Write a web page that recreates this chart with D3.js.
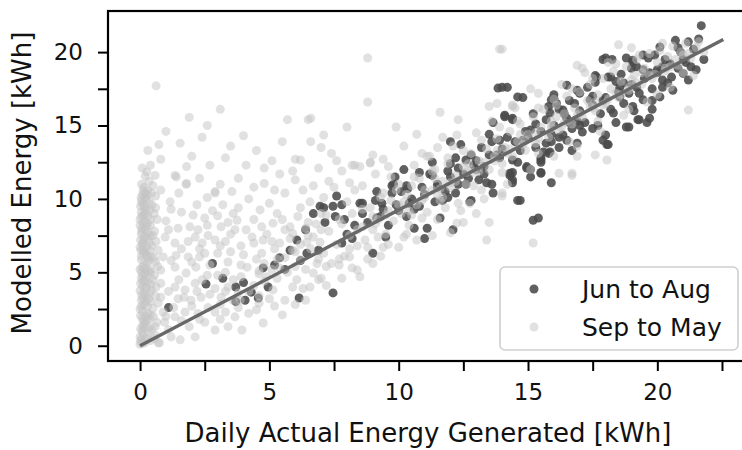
<!DOCTYPE html>
<html>
<head>
<meta charset="utf-8">
<script src="https://cdn.jsdelivr.net/npm/d3@7"></script>
<style>
  html, body { margin: 0; padding: 0; background: #fff; }
  svg { display: block; font-family: "DejaVu Sans", sans-serif; }
</style>
</head>
<body>
<svg id="chart" width="742" height="450"></svg>
<script>
// Daily modelled vs. actual PV energy, split by season.
const seriesNames = ["Jun to Aug", "Sep to May"];
const xTicks = [0, 2.5, 5, 7.5, 10, 12.5, 15, 17.5, 20, 22.5];
const yTicks = [0, 2.5, 5, 7.5, 10, 12.5, 15, 17.5, 20];
const fitX = [0, 22.55];
const fitSlope = 0.925;

// Jun to Aug: [actual, modelled] kWh
const junToAug = [
  [1.1,2.6],[2.55,4.2],[2.8,5.6],[3.2,4.6],[3.7,4.0],[4.0,4.3],[4.06,3.1],[3.7,3.0],[4.3,3.65],[4.57,3.25],
  [4.95,4.0],[4.76,5.3],[5.4,6.0],[5.2,5.5],[6.15,3.25],[5.8,6.5],[6.06,7.2],[6.4,7.9],[6.7,9.0],[6.45,6.3],
  [6.96,9.5],[7.46,3.6],[9.0,6.3],[7.6,10.2],[7.1,9.4],[7.46,9.5],[7.8,9.6],[7.15,8.4],[7.55,8.8],[8.5,9.7],
  [8.6,9.0],[9.15,10.5],[9.35,9.7],[9.8,11.0],[10.2,12.0],[10.3,10.9],[9.15,8.7],[9.6,8.2],[9.5,7.4],[10.3,8.8],
  [10.6,8.0],[11.1,8.0],[11.0,7.3],[11.6,8.7],[12.1,7.9],[11.3,11.6],[11.8,10.5],[12.2,10.4],[12.8,9.9],[12.6,11.0],
  [13.1,11.3],[13.6,11.0],[14.3,11.6],[14.4,11.1],[14.6,9.9],[11.3,12.5],[13.84,17.55],[13.65,15.2],[13.5,14.4],[12.0,13.9],
  [12.4,13.7],[9.86,11.5],[9.74,10.9],[8.6,9.7],[9.74,10.4],[11.9,10.1],[12.75,9.8],[12.2,12.8],[12.6,12.65],[13.0,12.0],
  [13.4,11.1],[13.65,10.4],[10.8,11.8],[10.35,10.7],[11.5,10.8],[14.0,17.6],[14.2,17.6],[14.8,16.9],[14.1,15.6],[15.9,16.75],
  [16.0,17.1],[16.5,17.75],[16.9,17.4],[17.6,18.4],[17.6,17.95],[17.9,19.5],[18.25,19.5],[18.1,18.3],[18.8,14.9],[19.25,15.4],
  [19.6,15.2],[18.0,14.35],[17.9,14.0],[18.1,13.7],[16.7,13.3],[16.9,13.8],[15.9,13.9],[16.2,13.5],[15.5,12.8],[15.8,13.1],
  [14.4,11.8],[14.4,11.3],[14.95,12.1],[15.1,11.5],[15.5,11.8],[15.9,11.1],[15.85,15.85],[16.1,16.5],[16.35,16.05],[17.0,17.2],
  [17.4,16.75],[16.6,15.2],[17.1,14.55],[16.35,14.35],[15.7,15.4],[14.4,15.4],[15.1,14.7],[14.7,13.3],[18.8,19.6],[19.05,19.3],
  [19.45,18.8],[18.7,17.9],[19.2,17.6],[18.55,16.95],[19.05,16.3],[19.45,16.75],[18.3,15.85],[21.7,21.8],[20.7,20.8],[21.2,20.7],
  [20.1,20.35],[20.9,20.0],[21.8,19.5],[21.5,18.8],[21.3,19.0],[20.55,18.3],[21.0,18.55],[20.2,18.1],[20.2,17.6],[20.1,16.95],
  [19.8,16.7],[19.8,16.1],[18.0,19.6],[18.2,18.3],[19.7,15.5],[19.3,15.4],[18.9,14.9],[19.2,19.0],[19.05,19.45],[19.45,19.8],
  [19.65,19.6],[18.55,17.6],[18.9,17.2],[20.0,18.8],[14.1,15.7],[16.0,16.85],[17.65,18.3],[18.05,13.7],[16.2,14.2],[15.7,13.8],
  [15.85,13.2],[15.5,12.65],[15.1,12.0],[15.5,11.75],[14.4,12.65],[14.3,11.75],[14.95,12.2],[14.6,16.95],[14.4,15.5],[14.7,9.9],
  [15.2,8.55],[15.4,8.7],[15.5,12.5],[10.5,10.0],[11.0,10.3],[11.5,11.0],[12.0,11.5],[12.5,11.7],[13.0,12.6],[13.5,13.0],
  [14.0,13.4],[14.5,13.9],[15.0,14.2],[15.5,14.6],[16.0,15.0],[16.5,15.5],[17.0,16.0],[17.5,16.4],[18.0,16.9],[18.5,17.3],
  [19.0,17.8],[19.5,18.2],[20.0,18.6],[20.5,19.2],[21.0,19.5],[17.2,15.2],[17.8,15.8],[16.8,16.5],[18.7,16.5],[19.8,17.5],
  [20.6,17.4],[21.2,18.1],[12.8,13.0],[13.3,12.2],[13.9,12.8],[16.4,15.8],[17.5,17.0],[15.2,15.8],[15.3,13.5],[16.7,14.8],
  [17.7,15.0],[18.4,15.2],[19.1,16.0],[20.3,19.5],[20.8,18.9],[21.4,20.2],[10.0,9.2],[10.8,9.5],[11.4,9.8],[12.3,11.0],
  [8.0,7.6],[8.3,8.2],[7.8,7.0],[9.3,8.8],[6.9,6.5],[6.2,5.8],[5.6,5.2],
  [7.9,8.6],[8.2,7.3],[8.8,8.4],[9.1,9.9],[9.4,9.3],[9.9,9.6],[10.1,10.5],[10.6,9.3],[10.9,10.8],[11.2,11.7],
  [11.7,9.9],[12.0,12.4],[12.3,12.1],[12.7,11.4],[13.2,13.5],[13.3,11.7],[13.8,13.0],[13.9,14.0],[14.2,14.2],[14.6,12.5],
  [14.9,14.6],[15.3,15.1],[15.6,13.2],[15.9,14.4],[16.2,16.1],[16.5,14.0],[16.9,15.3],[17.3,17.6],[17.5,14.8],[17.9,16.7],
  [18.2,16.1],[18.6,18.5],[19.0,18.9],[19.3,17.2],[19.7,18.6],[20.2,19.0],[20.4,17.9],[20.8,20.3],[21.1,19.3],[21.6,20.9],
  [11.9,11.9],[12.9,12.3],[10.4,9.7],[14.8,14.0],[16.6,16.7],[18.4,18.0],[17.0,15.0],[15.8,16.3],[13.6,13.9],[19.9,19.8]
];

// Sep to May: [actual, modelled] kWh
const sepToMay = [
  [0.00,0.10],[0.05,0.45],[0.12,0.80],[0.02,1.15],[0.20,1.50],[0.08,1.85],[0.30,2.20],[0.00,2.50],[0.15,2.80],[0.05,3.10],
  [0.25,3.40],[0.00,3.75],[0.10,4.05],[0.30,4.35],[0.05,4.60],[0.20,4.90],[0.00,5.20],[0.15,5.50],[0.35,5.80],[0.05,6.10],
  [0.20,6.40],[0.00,6.70],[0.10,7.00],[0.30,7.30],[0.05,7.60],[0.20,7.90],[0.00,8.20],[0.15,8.50],[0.30,8.80],[0.05,9.10],
  [0.20,9.40],[0.10,9.70],[0.25,10.00],[0.10,10.30],[0.30,10.60],[0.40,0.35],[0.45,1.10],[0.35,1.80],[0.50,2.55],[0.40,3.00],
  [0.45,3.80],[0.50,4.50],[0.40,5.20],[0.55,6.00],[0.45,6.80],[0.50,7.50],[0.40,8.20],[0.55,9.00],[0.45,9.60],[0.00,0.60],
  [0.10,1.40],[0.22,2.00],[0.05,2.70],[0.15,3.55],[0.25,4.00],[0.10,4.80],[0.32,5.05],[0.05,5.85],[0.25,6.20],[0.10,6.90],
  [0.30,7.70],[0.00,8.60],[0.20,9.00],[0.05,9.85],[0.15,10.80],[0.35,11.20],[0.20,11.55],[0.60,10.20],[0.50,10.90],[0.02,0.30],
  [0.18,0.20],[0.28,0.55],[0.08,1.00],[0.35,1.25],[0.15,1.65],[0.02,2.05],[0.28,2.65],[0.12,3.25],[0.38,3.60],[0.02,4.25],
  [0.18,4.45],[0.08,5.35],[0.28,5.65],[0.12,6.55],[0.38,6.45],[0.02,7.20],[0.18,7.45],[0.08,8.00],[0.28,8.35],[0.12,8.90],
  [0.38,9.25],[0.02,9.50],[0.18,10.10],[0.60,0.70],[0.65,1.60],[0.70,2.90],[0.62,4.00],[0.68,5.40],[0.70,6.50],[0.62,7.10],
  [0.66,8.60],[0.75,0.20],
  [0.08,0.15],[0.22,0.40],[0.32,0.95],[0.14,1.25],[0.26,1.70],[0.40,2.10],[0.10,2.35],[0.22,3.00],[0.34,3.20],[0.06,3.45],
  [0.20,3.90],[0.42,4.20],[0.12,4.40],[0.26,4.70],[0.40,5.00],[0.06,5.00],[0.20,5.30],[0.30,6.00],[0.14,6.30],[0.42,6.10],
  [0.04,6.50],[0.24,6.75],[0.36,7.00],[0.14,7.25],[0.40,7.50],[0.06,7.80],[0.26,8.10],[0.12,8.30],[0.40,8.60],[0.06,8.80],
  [0.24,9.20],[0.14,9.50],[0.36,9.80],[0.04,10.10],[0.28,10.30],[0.12,10.55],[0.44,10.40],[0.06,11.00],[0.26,11.85],[0.08,12.10],
  [0.40,12.30],[0.55,0.50],[0.58,1.30],[0.52,2.00],[0.60,3.40],[0.56,4.80],[0.60,5.70],[0.56,7.80],[0.60,9.40],
  [0.30,13.30],[0.73,13.70],[1.55,13.80],[2.40,14.20],[0.80,12.70],[0.58,11.60],[1.40,11.50],[1.78,11.00],[2.90,10.50],[2.60,10.10],
  [1.16,9.80],[0.80,10.60],[0.20,10.40],[1.60,9.10],[2.05,8.90],[2.50,8.70],[3.00,8.85],[3.40,8.40],[1.47,8.00],[1.93,8.10],
  [2.24,7.90],[2.63,7.50],[3.13,8.10],[0.97,7.40],[1.35,7.00],[1.86,7.10],[2.13,7.40],[2.90,7.20],[3.30,7.10],[3.67,7.90],
  [0.89,6.05],[1.39,6.15],[1.86,6.05],[2.30,6.05],[3.00,6.30],[3.50,6.40],[0.80,5.15],[1.35,5.35],[1.78,4.95],[2.16,5.35],
  [0.80,4.25],[1.35,4.00],[1.74,3.80],[2.13,4.25],[2.90,3.90],[0.80,3.30],[1.47,3.20],[1.97,3.10],[2.36,3.30],[3.13,3.30],
  [0.89,2.30],[1.35,1.97],[1.74,2.30],[2.24,2.20],[2.63,2.60],[2.90,1.07],[2.13,0.60],[1.55,0.40],[0.70,0.20],[3.30,2.30],
  [3.60,3.10],[3.67,1.97],[3.40,1.30],[0.62,17.70],[1.90,15.55],[3.10,16.10],[4.00,14.30],[5.70,15.40],[6.50,15.40],[5.50,13.90],
  [6.00,12.70],[1.35,11.60],[1.80,11.05],[2.90,10.40],[4.80,11.05],[3.55,10.50],
  [6.57,9.80],[4.64,9.25],[5.14,8.35],[3.75,8.55],[4.33,7.40],[4.76,7.20],[5.40,7.00],[5.90,7.65],[6.45,7.05],[6.20,5.85],
  [6.84,5.60],[5.70,5.00],[4.90,4.70],[4.14,5.35],[3.87,3.10],[4.50,2.45],[5.50,2.10],[3.94,1.07],[4.76,1.55],[6.00,2.80],
  [6.57,4.00],[6.90,4.50],[6.06,4.50],[5.14,3.80],
  [2.2,9.6],[3.8,9.4],[4.2,10.0],[5.0,9.7],[5.6,10.4],[4.4,8.6],[5.3,9.0],[6.1,8.8],[6.8,8.3],[5.8,8.1],
  [3.2,9.6],[4.7,6.3],[5.2,6.6],[3.9,6.8],[4.5,5.9],[6.3,10.6],[7.3,11.2],[6.9,12.1],[5.4,11.7],[4.1,12.3],
  [3.3,12.8],[2.7,12.3],[2.0,12.9],[7.8,11.9],[7.5,10.8],[5.1,12.6],[4.5,13.3],[2.3,6.6],[2.7,5.5],[3.3,5.0],
  [3.6,4.5],[2.6,4.8],[3.1,2.8],[4.2,2.2],[2.5,1.6],[1.1,1.1],[1.9,1.3],[1.2,0.6],[0.95,1.6],[4.4,4.1],
  [5.6,3.1],[5.9,4.0],
  [1.0,8.5],[1.2,9.3],[1.5,10.4],[2.3,11.4],[3.1,11.0],[3.8,11.4],[4.4,10.8],[5.2,10.6],[6.0,11.3],[6.7,10.9],
  [7.1,10.1],[2.8,9.2],[3.6,9.0],[4.7,8.1],[5.5,8.6],[6.2,9.4],[7.0,9.0],[1.1,7.9],[2.6,8.2],[3.5,7.6],
  [4.1,7.9],[4.9,7.6],[5.6,7.9],[6.4,8.0],[1.6,6.6],[2.4,7.0],[3.1,6.8],[4.0,6.2],[4.4,7.0],[5.1,7.1],
  [5.9,6.5],[1.2,5.8],[2.0,5.7],[2.5,6.3],[3.4,5.7],[3.9,5.5],[4.6,5.1],[5.4,5.3],[6.0,5.4],[1.5,4.5],
  [2.4,4.5],[3.0,4.8],[3.4,4.0],[3.9,4.7],[4.8,4.4],[5.3,4.6],[1.1,3.7],[1.7,3.3],[2.2,3.7],[2.7,3.5],
  [3.3,3.7],[4.6,3.4],[1.3,2.6],[2.0,2.7],[2.9,2.3],[3.8,2.6],[1.0,2.0],[1.6,1.7],[2.3,1.8],[3.1,1.8],
  [4.6,2.9],[5.2,2.7],[6.4,3.1],[7.2,4.1],[7.8,4.6],[8.2,5.3],[9.3,6.1],[10.0,6.7],[10.7,7.2],[11.3,7.5],
  [12.0,7.7],[1.8,12.2],[3.5,13.6],[4.8,12.1],[5.9,11.9],[6.6,13.9],[7.4,13.1],[8.1,11.1],[8.6,10.9],[9.6,12.2],
  [10.2,13.6],[10.7,14.4],[1.0,14.6],[2.6,15.0],[8.0,14.9],[9.9,14.9],
  [13.4,7.2],[13.5,8.4],[12.5,8.4],[8.5,4.7],[8.4,5.15],[6.7,4.95],[7.2,5.4],[7.7,5.5],[8.1,6.05],[9.0,5.6],
  [8.8,6.7],[9.4,6.7],[8.3,12.3],[8.9,12.5],[10.2,7.4],[12.25,8.35],[13.0,9.0],[12.75,9.7],[14.0,10.2],[6.96,7.05],
  [6.6,6.6],[8.8,19.6],[13.9,20.2],[8.8,16.6],[6.6,15.5],[7.1,14.35],[7.0,13.5],[11.6,15.9],[12.3,15.4],[11.7,14.2],
  [11.5,13.5],[12.25,14.35],[13.5,16.3],[13.8,16.5],[14.4,16.3],[9.0,13.0],[9.4,12.7],[8.2,12.3],[8.5,12.2],[8.9,12.45],
  [10.9,13.1],[11.1,12.9],[6.2,12.65],[18.5,20.5],[16.9,19.1],[17.1,18.9],[15.1,17.5],[21.2,16.05],[21.6,20.7],[14.0,20.2],
  [14.4,16.4],[18.05,12.65],[16.7,11.75],[17.6,13.0],[16.2,11.75],[16.9,12.9],[15.2,7.0],[16.7,11.6],[14.0,10.4],
  [6.2,6.9],[6.4,5.2],[6.7,7.4],[6.9,5.9],[7.1,6.3],[7.3,7.8],[7.4,5.6],[7.6,6.9],[7.8,8.3],[7.9,6.1],
  [8.1,7.5],[8.2,9.0],[8.4,6.8],[8.6,8.1],[8.7,7.2],[8.9,9.4],[9.0,7.9],[9.2,8.6],[9.3,10.1],[9.5,7.6],
  [9.6,9.2],[9.8,8.5],[9.9,10.6],[10.1,9.0],[10.2,9.8],[10.4,8.2],[10.5,10.9],[10.7,9.6],[10.8,11.4],[11.0,10.1],
  [11.1,9.1],[11.3,10.6],[11.4,12.0],[11.6,9.9],[11.7,11.2],[11.9,12.4],[12.0,10.8],[12.2,11.6],[12.3,9.7],[12.5,12.2],
  [12.6,11.0],[12.8,13.1],[12.9,11.8],[13.1,12.6],[13.2,10.6],[13.4,13.4],[13.5,12.0],[13.7,12.9],[13.8,14.1],[14.0,12.4],
  [14.1,13.5],[14.3,14.6],[14.4,12.9],[14.6,13.9],[14.7,15.1],[14.9,13.3],[15.0,14.4],[15.2,15.6],[15.3,13.8],[15.5,14.9],
  [15.6,16.1],[15.8,14.2],[15.9,15.3],[16.1,16.4],[16.2,14.7],[16.4,15.8],[16.5,17.0],[16.7,15.1],[16.8,16.2],[17.0,17.3],
  [17.1,15.6],[17.3,16.7],[17.4,17.8],[17.6,16.0],[17.7,17.1],[17.9,18.2],[18.0,16.5],[18.2,17.5],[18.3,18.7],[18.5,16.9],
  [18.6,18.0],[18.8,19.0],[18.9,17.4],[19.1,18.4],[19.2,19.5],[19.4,17.8],[19.5,18.9],[19.7,19.9],[19.8,18.2],[20.0,19.3],
  [20.1,20.1],[20.3,18.7],[20.4,19.7],[20.6,20.4],[20.8,19.1],[20.9,20.0],[21.1,20.6],[21.3,19.6],[21.5,20.3],[21.8,20.0],
  [9.7,11.5],[10.6,12.3],[11.2,12.9],[12.1,13.6],[13.0,14.5],[13.6,15.3],[14.5,16.2],[15.4,17.2],[16.3,17.8],[17.2,18.6],
  [18.1,19.3],[19.0,20.3],[10.3,7.6],[11.5,8.6],[12.4,9.2],[13.3,10.0],[14.2,11.0],[15.1,12.0],[16.0,12.9],[16.9,13.6],
  [17.8,14.6],[18.7,15.7],[19.6,16.6],[20.5,17.6],[21.4,18.4],[8.0,9.8],[7.2,8.9],[6.5,8.4],[5.8,7.3],[5.3,5.9],
  [4.8,5.6],[4.2,3.7],[3.8,3.6],[5.0,3.2],[6.3,3.9],[7.0,4.6],[7.7,5.9],[8.8,5.9],[9.6,6.9],[10.9,8.7],
  [11.8,9.4],[8.3,10.6],[9.1,11.7],[7.6,12.6],
  [8.4,7.9],[9.1,8.3],[9.7,9.9],[10.3,10.3],[10.9,9.9],[11.5,10.3],[12.0,11.1],[12.6,11.8],[13.1,11.9],[13.7,12.6],
  [14.2,13.1],[14.8,13.7],[15.3,14.5],[15.9,14.8],[16.4,15.2],[17.0,15.8],[17.5,16.2],[18.1,16.8],[18.6,17.1],[19.2,17.9],
  [19.7,18.4],[20.3,18.9],[20.7,19.5],[21.2,19.9],[9.4,10.4],[10.0,11.0],[10.6,11.5],[11.3,11.9],[11.9,12.8],[12.5,13.3],
  [13.2,14.0],[13.9,14.9],[14.6,15.3],[15.4,16.2],[16.0,16.8],[16.7,17.5],[17.5,18.2],[18.4,19.2],[19.3,19.8],[20.2,20.6],
  [8.6,9.3],[7.7,8.6],[7.0,7.9],[6.5,7.5],[6.0,6.4],[5.6,6.0],[5.1,5.2],[4.6,4.9],[8.1,6.6],[9.2,7.4],
  [10.5,8.9],[11.7,10.1],[12.9,10.9],[14.0,11.8],[15.4,13.1],[16.6,13.9],[17.7,15.3],[18.9,16.1],[20.0,17.1],[21.0,18.6],
  [9.0,8.8],[9.5,8.9],[10.0,9.6],[10.4,9.2],[11.0,10.6],[11.6,10.7],[12.2,11.2],[12.7,12.4],[13.3,12.5],[13.8,13.3],
  [14.3,13.4],[14.9,14.0],[15.4,14.1],[15.9,15.0],[16.3,14.9],[16.9,15.7],[17.4,16.3],[17.9,16.4],[18.4,17.2],[18.9,17.6],
  [19.4,18.6],[19.9,18.5],[20.5,19.0],[21.0,19.8],[11.4,11.4],[12.8,12.0],[14.7,14.4],[16.1,15.6],[17.6,16.6],[19.0,18.1]
];

const svg = d3.select("#chart");
const plot = { left: 108, right: 745, top: 11, bottom: 361 };

const x = d3.scaleLinear().domain([-1.24, 23.39]).range([plot.left, plot.right]);
const y = d3.scaleLinear().domain([-1.04, 22.8]).range([plot.bottom, plot.top]);

const dark = { fill: "#4a4a4a", opacity: 0.88 };
const light = { fill: "#c4c4c4", opacity: 0.5 };
const radius = 4.5;

svg.append("defs").append("clipPath").attr("id", "plotClip")
  .append("rect")
  .attr("x", plot.left).attr("y", plot.top)
  .attr("width", plot.right - plot.left).attr("height", plot.bottom - plot.top);

const marks = svg.append("g").attr("clip-path", "url(#plotClip)");

marks.append("g").selectAll("circle").data(junToAug).join("circle")
  .attr("cx", d => x(d[0])).attr("cy", d => y(d[1])).attr("r", radius)
  .attr("fill", dark.fill).attr("fill-opacity", dark.opacity);

marks.append("g").selectAll("circle").data(sepToMay).join("circle")
  .attr("cx", d => x(d[0])).attr("cy", d => y(d[1])).attr("r", radius)
  .attr("fill", light.fill).attr("fill-opacity", light.opacity);

// least-squares line through the origin
marks.append("line")
  .attr("x1", x(fitX[0])).attr("y1", y(fitSlope * fitX[0]))
  .attr("x2", x(fitX[1])).attr("y2", y(fitSlope * fitX[1]))
  .attr("stroke", "#686868").attr("stroke-width", 3.4).attr("stroke-linecap", "butt");

// axes
const fmt = v => (v % 5 === 0 ? String(v) : "");
const xAxis = svg.append("g").attr("transform", `translate(0,${plot.bottom})`)
  .call(d3.axisBottom(x).tickValues(xTicks).tickFormat(fmt).tickSize(10).tickPadding(13).tickSizeOuter(0));
const yAxis = svg.append("g").attr("transform", `translate(${plot.left},0)`)
  .call(d3.axisLeft(y).tickValues(yTicks).tickFormat(fmt).tickSize(10).tickPadding(15).tickSizeOuter(0));

[xAxis, yAxis].forEach(g => {
  g.select(".domain").remove();
  g.selectAll(".tick line").attr("stroke", "#000").attr("stroke-width", 2);
  g.selectAll(".tick text").attr("fill", "#111").style("font-size", "23px")
    .style("font-family", "'DejaVu Sans', sans-serif");
});

// frame
svg.append("rect")
  .attr("x", plot.left).attr("y", plot.top)
  .attr("width", plot.right - plot.left).attr("height", plot.bottom - plot.top)
  .attr("fill", "none").attr("stroke", "#000").attr("stroke-width", 2.2);

// axis titles
svg.append("text")
  .attr("x", 428).attr("y", 442)
  .attr("text-anchor", "middle")
  .style("font-size", "26px").attr("fill", "#111")
  .text("Daily Actual Energy Generated [kWh]");

svg.append("text")
  .attr("transform", "translate(31,183) rotate(-90)")
  .attr("text-anchor", "middle")
  .style("font-size", "26px").attr("fill", "#111")
  .text("Modelled Energy [kWh]");

// legend
const legend = svg.append("g");
legend.append("rect")
  .attr("x", 500).attr("y", 267).attr("width", 238).attr("height", 83)
  .attr("rx", 5).attr("fill", "#fff").attr("fill-opacity", 0.8)
  .attr("stroke", "#cfcfcf").attr("stroke-width", 1.6);

const legendItems = [
  { name: seriesNames[0], style: dark, cy: 289 },
  { name: seriesNames[1], style: light, cy: 327 }
];
legendItems.forEach(it => {
  legend.append("circle").attr("cx", 534).attr("cy", it.cy).attr("r", radius)
    .attr("fill", it.style.fill).attr("fill-opacity", it.style.opacity);
  legend.append("text").attr("x", 582).attr("y", it.cy).attr("dy", "0.36em")
    .style("font-size", "25px").attr("fill", "#111").text(it.name);
});
</script>
</body>
</html>
